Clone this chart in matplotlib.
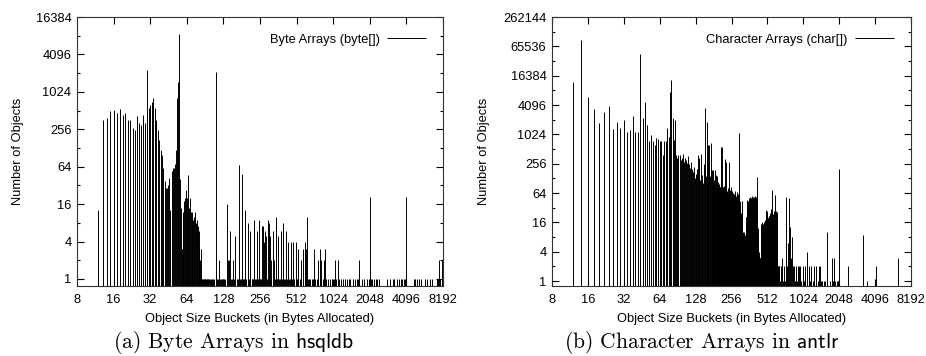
import matplotlib
matplotlib.use("Agg")
import matplotlib.pyplot as plt
import numpy as np
from matplotlib.ticker import FixedLocator, FixedFormatter, NullFormatter

plt.rcParams['font.family'] = ['Liberation Sans', 'DejaVu Sans']
plt.rcParams['mathtext.fontset'] = 'cm'

# ---------------- (a) byte[] in hsqldb ----------------
byte_sizes_dense = list(range(12, 85))
byte_counts_dense = [13, 360, 385, 500, 525, 475, 545, 435, 465, 360,
                     355, 265, 245, 425, 320, 300, 435, 320, 2300, 560,
                     620, 700, 810, 560, 360, 250, 172, 119, 99, 60,
                     37, 29, 29, 33, 42, 13, 55, 60, 62, 72,
                     120, 810, 1500, 8700, 40, 14, 3, 10, 12, 18,
                     20, 27, 20, 16, 47, 14, 20, 12, 10, 12,
                     9, 8, 10, 12, 8, 9, 6, 7, 6, 3,
                     2, 1, 3]
byte_sizes_tail = [111, 118, 136, 139, 142, 145, 153, 160, 171, 182, 194, 203,
                   213, 229, 242, 253, 265, 272, 276, 280, 288, 296, 304, 312,
                   315, 326, 335, 346, 362, 381, 394, 396, 416, 432, 436, 457,
                   461, 480, 504, 523, 525, 553, 575, 595, 617, 625, 712, 716,
                   763, 794, 814, 867, 880, 1066, 1125, 1684, 2048, 4040, 7600, 8000]
byte_counts_tail = [2100, 2, 16, 2, 2, 6, 2, 5, 67, 48, 13, 8,
                    6, 9, 6, 9, 7, 7, 4, 6, 5, 9, 8, 5,
                    2, 6, 2, 10, 5, 6, 2, 8, 6, 2, 4, 4,
                    2, 4, 4, 2, 3, 2, 3, 4, 3, 10, 3, 2,
                    2, 3, 2, 2, 3, 2, 2, 2, 21, 21, 2, 2]
byte_sizes_ones = [85, 86, 87, 88, 89, 90, 91, 92, 93, 94, 95, 96, 98, 100, 102,
                   104, 106, 108, 113, 115, 120, 122, 125, 127, 130, 132, 138,
                   148, 150, 156, 165, 168, 175, 178, 185, 188, 190, 198, 207,
                   210, 218, 222, 225, 235, 238, 248, 258, 262, 268, 284, 290,
                   300, 308, 318, 330, 340, 350, 355, 370, 375, 385, 400, 410,
                   425, 440, 450, 470, 490, 510, 530, 545, 560, 580, 600, 640,
                   650, 660, 680, 700, 730, 750, 770, 800, 840, 860, 900, 920,
                   960, 1000, 1040, 1090, 1150, 1190, 1230, 1280, 1330, 1380,
                   1420, 1500, 1560, 1600, 1640, 1760, 1850, 1950, 2000, 2100,
                   2150, 2200, 2300, 2350, 2450, 2850, 3000, 3150, 3250, 3450,
                   3550, 3700, 3800, 3900, 3980, 4700, 4800, 5000, 5200, 5350,
                   5850, 6100, 6400, 6600, 7300, 7500, 7800, 8100]

# ---------------- (b) char[] in antlr ----------------
char_sizes_small = list(range(12, 90, 2))
char_counts_small = [12400, 89600, 6100, 3400, 1740, 2900, 3950, 1310, 1820, 1370,
                     2030, 1140, 1260, 2490, 1170, 1140, 46300, 2200, 4830, 1600,
                     730, 970, 760, 625, 870, 820, 760, 760, 390, 760,
                     760, 1370, 900, 7750, 13500, 2200, 800, 2000, 390]
char_sizes_mid = list(range(90, 300, 2))
char_counts_mid = [330, 390, 388, 300, 331, 400, 280, 330, 300, 260,
                   360, 250, 210, 280, 242, 200, 176, 220, 129, 160,
                   150, 200, 388, 170, 330, 120, 400, 110, 150, 104,
                   250, 120, 3540, 140, 1870, 120, 620, 110, 623, 130,
                   140, 680, 110, 190, 100, 191, 95, 120, 190, 90,
                   150, 140, 86, 110, 80, 86, 100, 86, 85, 575,
                   90, 575, 80, 85, 70, 90, 75, 316, 80, 70,
                   80, 283, 65, 70, 80, 60, 70, 283, 65, 60,
                   75, 55, 86, 60, 66, 70, 60, 55, 64, 60,
                   58, 55, 70, 60, 55, 52, 68, 50, 55, 50,
                   60, 52, 1080, 50, 46]
char_sizes_large = list(range(300, 644, 4))
char_counts_large = [43, 30, 20, 43, 12, 9, 10, 8, 9, 14,
                     21, 30, 46, 40, 48, 50, 45, 52, 48, 50,
                     56, 40, 52, 50, 46, 55, 50, 48, 52, 135,
                     40, 12, 3, 3, 4, 3, 2, 3, 4, 15,
                     14, 16, 15, 13, 16, 15, 14, 18, 16, 20,
                     29, 24, 28, 22, 20, 18, 21, 22, 18, 25,
                     20, 22, 24, 30, 74, 20, 22, 18, 24, 20,
                     22, 25, 58, 22, 24, 28, 22, 25, 24, 26,
                     2, 1, 2, 1, 2, 1]
char_sizes_large_odd = list(range(302, 642, 4))
char_counts_large_odd = [36, 25, 18, 30, 10, 8, 9, 7, 8, 12,
                         18, 26, 40, 44, 42, 46, 48, 44, 50, 46,
                         48, 44, 46, 52, 48, 50, 46, 50, 45, 60,
                         18, 6, 3, 2, 3, 2, 3, 2, 6, 13,
                         15, 14, 13, 15, 14, 16, 15, 16, 18, 24,
                         26, 22, 24, 20, 19, 20, 22, 20, 21, 22,
                         21, 20, 22, 26, 30, 21, 20, 20, 22, 21,
                         24, 28, 26, 23, 22, 24, 25, 23, 22, 3,
                         1, 2, 1, 1, 2]
char_sizes_tail = [650, 660, 675, 690, 700, 720, 735, 745, 755, 765, 775, 786,
                   797, 808, 821, 835, 850, 862, 876, 890, 905, 920, 940, 964,
                   985, 1010, 1040, 1060, 1095, 1110, 1134, 1160, 1190, 1230,
                   1248, 1270, 1316, 1350, 1380, 1406, 1440, 1480, 1520, 1560,
                   1618, 1700, 1767, 1800, 1840, 1900, 1950, 1990, 2020, 2048,
                   2416, 3237, 3470, 4140, 6330]
char_counts_tail = [1, 2, 3, 1, 2, 1, 54, 2, 6, 1, 50, 2,
                    13, 3, 8, 2, 2, 1, 1, 2, 1, 2, 2, 2,
                    1, 2, 1, 2, 4, 2, 2, 1, 2, 1,
                    1, 2, 2, 1, 2, 2, 1, 1, 1, 1,
                    10, 1, 3, 1, 3, 1, 1, 1, 1, 200,
                    2, 9, 1, 2, 3]

x_ticks = [8, 16, 32, 64, 128, 256, 512, 1024, 2048, 4096, 8192]
FS = 9.3


def draw_panel(ax, sizes, counts, ymin, ytop, legend_label, ylab_x):
    ax.vlines(sizes, ymin, counts, colors='black', linewidth=0.7,
              label=legend_label)
    ax.set_xscale('log', base=2)
    ax.set_yscale('log', base=2)
    ax.set_xlim(8, 8192)
    ax.set_ylim(ymin, ytop)

    ax.xaxis.set_major_locator(FixedLocator(x_ticks))
    ax.xaxis.set_major_formatter(FixedFormatter([str(t) for t in x_ticks]))
    ax.xaxis.set_minor_locator(FixedLocator([]))

    n = int(round(np.log(ytop) / np.log(4)))
    yt = [4 ** k for k in range(n + 1)]
    ax.yaxis.set_major_locator(FixedLocator(yt))
    ax.yaxis.set_major_formatter(FixedFormatter([str(t) for t in yt]))
    ax.yaxis.set_minor_locator(FixedLocator([2 * 4 ** k for k in range(n)]))
    ax.yaxis.set_minor_formatter(NullFormatter())

    ax.tick_params(which='both', direction='in', top=True, right=True,
                   labelsize=FS, width=0.8)
    ax.tick_params(which='major', length=5)
    ax.tick_params(axis='x', which='major', pad=6)
    ax.tick_params(axis='y', which='major', pad=4)
    ax.tick_params(which='minor', length=2.5)
    for s in ax.spines.values():
        s.set_linewidth(0.8)
        s.set_color('#333333')

    ax.set_xlabel('Object Size Buckets (in Bytes Allocated)', fontsize=FS)
    ax.set_ylabel('Number of Objects', fontsize=FS)
    ax.xaxis.set_label_coords(0.5, -0.10)
    ax.yaxis.set_label_coords(ylab_x, 0.5)
    ax.legend(loc='upper right', frameon=False, markerfirst=False,
              handlelength=3.0, fontsize=FS, borderaxespad=0.9,
              handletextpad=0.6)


fig = plt.figure(figsize=(9.26, 3.56), dpi=100)
ax1 = fig.add_axes([77 / 926, 70 / 356, 366 / 926, 269 / 356])
ax2 = fig.add_axes([552 / 926, 70 / 356, 359 / 926, 269 / 356])

b_sizes = byte_sizes_dense + byte_sizes_tail + byte_sizes_ones
b_counts = byte_counts_dense + byte_counts_tail + [1] * len(byte_sizes_ones)
draw_panel(ax1, b_sizes, b_counts, 0.77, 16384, 'Byte Arrays (byte[])', -0.145)

c_sizes = (char_sizes_small + char_sizes_mid + char_sizes_large
           + char_sizes_large_odd + char_sizes_tail)
c_counts = (char_counts_small + char_counts_mid + char_counts_large
            + char_counts_large_odd + char_counts_tail)
draw_panel(ax2, c_sizes, c_counts, 0.79, 262144, 'Character Arrays (char[])', -0.172)

fig.text(234 / 926, 1 - 342 / 356, r'(a) Byte Arrays in $\mathsf{hsqldb}$',
         family='cmr10', fontsize=15.5, ha='center', va='center')
fig.text(702 / 926, 1 - 342 / 356, r'(b) Character Arrays in $\mathsf{antlr}$',
         family='cmr10', fontsize=15.5, ha='center', va='center')

fig.savefig('out.png', dpi=100)
